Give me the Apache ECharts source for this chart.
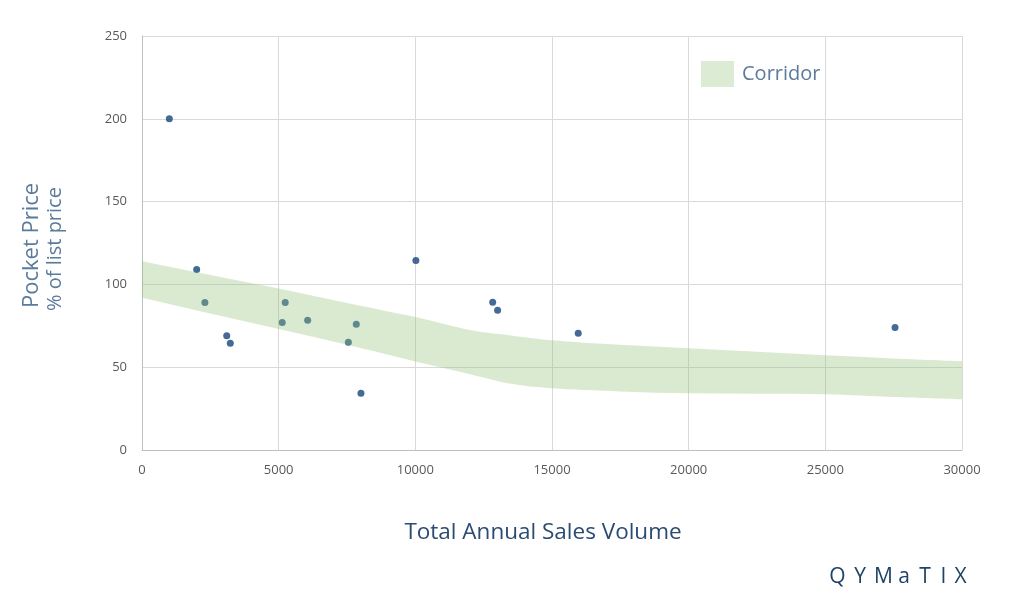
<!DOCTYPE html>
<html>
<head>
<meta charset="utf-8">
<script src="https://cdn.jsdelivr.net/npm/echarts@6/dist/echarts.min.js"></script>
<style>html,body{margin:0;padding:0;background:#fff;}#c{width:1021px;height:605px;}</style>
</head>
<body>
<div id="c"></div>
<script>
// Scatter points: [sales volume, pocket price %]
const points = [
  [1000, 200], [2000, 109], [2300, 89], [3100, 69], [3230, 64.5],
  [5130, 77], [5240, 89], [6060, 78.3], [7550, 65], [7840, 76],
  [8010, 34.2], [10020, 114.5], [12830, 89.2], [13010, 84.4],
  [15960, 70.5], [27550, 74]
];
// Corridor band boundaries
const bandX     = [0, 2500, 5000, 7500, 10000, 12000, 13500, 15000, 17500, 20000, 22500, 25000, 27500, 30000];
const bandLower = [92, 82.5, 73, 63.5, 53.5, 45.8, 40, 37.3, 35.4, 34.2, 34, 33.7, 32, 30.6];
const bandUpper = [114, 105.7, 97.5, 88.8, 80.3, 72.5, 69.2, 66.3, 63.5, 61.4, 59.3, 57.2, 55.3, 53.6];
const xTicks = [0, 5000, 10000, 15000, 20000, 25000, 30000];
const yTicks = [0, 50, 100, 150, 200, 250];
const logoLetters = ['Q', 'Y', 'M', 'a', 'T', 'I', 'X'];

// Catmull-Rom spline through pixel points -> cubic bezier path segments
function splineSegs(pts) {
  let d = '';
  for (let i = 0; i < pts.length - 1; i++) {
    const p0 = pts[Math.max(0, i - 1)], p1 = pts[i], p2 = pts[i + 1], p3 = pts[Math.min(pts.length - 1, i + 2)];
    const c1 = [p1[0] + (p2[0] - p0[0]) / 6, p1[1] + (p2[1] - p0[1]) / 6];
    const c2 = [p2[0] - (p3[0] - p1[0]) / 6, p2[1] - (p3[1] - p1[1]) / 6];
    d += ' C' + c1[0] + ' ' + c1[1] + ' ' + c2[0] + ' ' + c2[1] + ' ' + p2[0] + ' ' + p2[1];
  }
  return d;
}

const chart = echarts.init(document.getElementById('c'));
const logoCx = [837.5, 860, 883.5, 904, 925, 943.5, 960.5];
chart.setOption({
  animation: false,
  backgroundColor: '#ffffff',
  grid: { left: 142, right: 59, top: 36, bottom: 155 },
  legend: {
    data: [{ name: 'Corridor', icon: 'rect', itemStyle: { color: '#dcebd3' } }],
    left: 701, top: 61, padding: 0,
    itemWidth: 33, itemHeight: 26, itemGap: 8,
    textStyle: { fontFamily: 'Open Sans', fontSize: 20, color: '#5b7b9c', padding: [0, 0, 0, 3] },
    selectedMode: false
  },
  xAxis: {
    type: 'value', min: xTicks[0], max: xTicks[xTicks.length - 1], interval: 5000,
    name: 'Total Annual Sales Volume', nameLocation: 'middle', nameGap: 71,
    nameTextStyle: { fontFamily: 'Open Sans', fontSize: 22.5, color: '#2b4b72', padding: [0, 18, 0, 0] },
    axisLine: { show: true, lineStyle: { color: '#bfbfbf' } },
    axisTick: { show: false },
    axisLabel: { margin: 14, fontFamily: 'Open Sans', fontSize: 13, color: '#595959', formatter: v => String(v) },
    splitLine: { show: true, lineStyle: { color: '#d9d9d9' } }
  },
  yAxis: {
    type: 'value', min: yTicks[0], max: yTicks[yTicks.length - 1], interval: 50,
    axisLine: { show: true, lineStyle: { color: '#bfbfbf' } },
    axisTick: { show: false },
    axisLabel: { margin: 15, fontFamily: 'Open Sans', fontSize: 13, color: '#595959' },
    splitLine: { show: true, lineStyle: { color: '#d9d9d9' } }
  },
  graphic: [
    { type: 'text', x: 21, y: 308, rotation: Math.PI / 2, z: 10,
      style: { text: 'Pocket Price', fontFamily: 'Open Sans', fontSize: 22, fill: '#5b7b9c' } },
    { type: 'text', x: 45, y: 311, rotation: Math.PI / 2, z: 10,
      style: { text: '% of list price', fontFamily: 'Open Sans', fontSize: 20, fill: '#5b7b9c' } }
  ].concat(logoLetters.map((ch, i) => ({
    type: 'text', x: logoCx[i], y: 577, z: 10,
    style: { text: ch, fontFamily: 'Open Sans', fontSize: 21, fill: '#1f4366', align: 'center', verticalAlign: 'middle' }
  }))),
  series: [
    {
      type: 'scatter', name: 'Points', data: points, symbolSize: 7, z: 2,
      itemStyle: { color: '#15457a' }
    },
    {
      type: 'custom', name: 'Corridor', coordinateSystem: 'cartesian2d',
      data: [[bandX[0], bandLower[0]]], z: 3, silent: true,
      itemStyle: { color: '#dcebd3' },
      renderItem: function (params, api) {
        const up = bandX.map((x, i) => api.coord([x, bandUpper[i]]));
        const lo = bandX.map((x, i) => api.coord([x, bandLower[i]])).reverse();
        let d = 'M' + up[0][0] + ' ' + up[0][1] + splineSegs(up);
        d += ' L' + lo[0][0] + ' ' + lo[0][1] + splineSegs(lo) + ' Z';
        return {
          type: 'path', shape: { pathData: d },
          style: { fill: 'rgba(150,196,122,0.35)', stroke: 'none' }
        };
      }
    }
  ]
});
</script>
</body>
</html>
